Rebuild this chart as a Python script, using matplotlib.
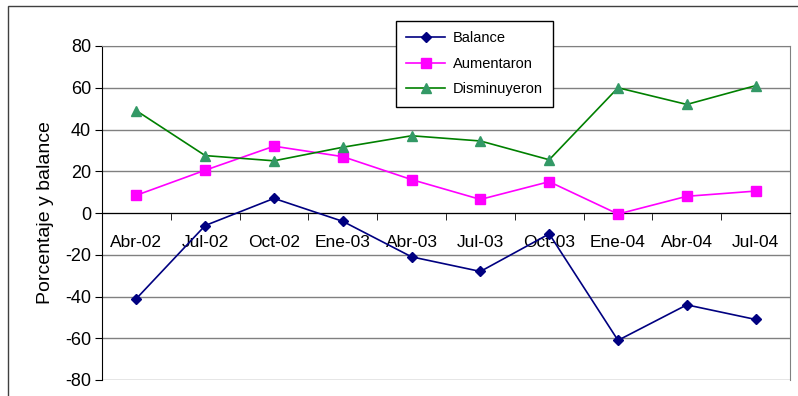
import matplotlib.pyplot as plt
from matplotlib.patches import Rectangle

# Data
periods = ["Abr-02", "Jul-02", "Oct-02", "Ene-03", "Abr-03",
           "Jul-03", "Oct-03", "Ene-04", "Abr-04", "Jul-04"]
balance = [-41, -6, 7, -4, -21, -28, -10, -61, -44, -51]
aumentaron = [8.5, 20.5, 32, 27, 16, 6.5, 15, -0.5, 8, 10.5]
disminuyeron = [49, 27.5, 25, 31.5, 37, 34.5, 25.5, 60, 52, 61]

plt.rcParams['font.family'] = ['Liberation Sans', 'DejaVu Sans']
plt.rcParams['axes.unicode_minus'] = False

fig = plt.figure(figsize=(7.98, 3.96), dpi=100)
ax = fig.add_axes([102 / 798, 1 - 380 / 396, 688 / 798, 334 / 396])

x = range(len(periods))
ax.plot(x, balance, color='#000080', lw=1.2, marker='D', ms=5.5,
        mfc='#000080', mec='#000080', label='Balance', zorder=3)
ax.plot(x, aumentaron, color='#FF00FF', lw=1.2, marker='s', ms=7,
        mfc='#FF00FF', mec='#FF00FF', label='Aumentaron', zorder=3)
ax.plot(x, disminuyeron, color='#008000', lw=1.2, marker='^', ms=7.5,
        mfc='#339966', mec='#339966', label='Disminuyeron', zorder=3)

ax.set_xlim(-0.5, len(periods) - 0.5)
ax.set_ylim(-80, 80)
ax.set_yticks(range(-80, 81, 20))
ax.yaxis.grid(True, color='#808080', lw=1)
ax.set_axisbelow(True)

# category axis crosses at zero
ax.spines['bottom'].set_position(('data', 0))
ax.spines['bottom'].set_color('black')
ax.spines['left'].set_color('black')
ax.spines['top'].set_color('#808080')
ax.spines['right'].set_color('#808080')
ax.set_xticks(list(x))
ax.set_xticklabels(periods, fontsize=12.5)
ax.tick_params(axis='x', which='major', length=0, pad=16)
ax.set_xticks([i + 0.5 for i in range(len(periods))], minor=True)
ax.tick_params(axis='x', which='minor', length=5, direction='out')
ax.tick_params(axis='y', length=5, direction='out', labelsize=13, pad=3)

ax.set_ylabel('Porcentaje y balance', fontsize=14, labelpad=8)

fig.legend(loc='upper left', bbox_to_anchor=(390 / 798, 1 - 15 / 396),
           fontsize=10.5, frameon=True, fancybox=False, edgecolor='black',
           framealpha=1, handlelength=2.7, handletextpad=0.5,
           borderpad=0.7, labelspacing=0.8, borderaxespad=0.4)

# outer chart border
fig.patches.append(Rectangle((8 / 798, -0.1), 1.1, 1.1 - 6 / 396,
                             transform=fig.transFigure, fill=False,
                             edgecolor='#404040', lw=1))

plt.savefig('out.png', dpi=100)
plt.close()
